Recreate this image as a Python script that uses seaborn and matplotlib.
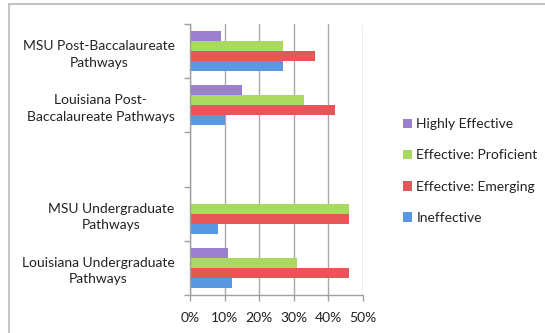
import matplotlib
matplotlib.use("Agg")
import matplotlib.pyplot as plt
import seaborn as sns
import pandas as pd
from matplotlib.ticker import PercentFormatter, MultipleLocator, FixedLocator
from matplotlib.lines import Line2D

# ---- data (top to bottom) ----
categories = [
    "MSU Post-Baccalaureate\nPathways",
    "Louisiana Post-\nBaccalaureate Pathways",
    " ",
    "MSU Undergraduate\nPathways",
    "Louisiana Undergraduate\nPathways",
]
series = ["Highly Effective", "Effective: Proficient", "Effective: Emerging", "Ineffective"]
highly_effective = [9, 15, None, 0, 11]
effective_proficient = [27, 33, None, 46, 31]
effective_emerging = [36, 42, None, 46, 46]
ineffective = [27, 10, None, 8, 12]
colors = ["#9B80CF", "#A9D95F", "#E65558", "#5A97E2"]

rows = []
for s, vals in zip(series, [highly_effective, effective_proficient, effective_emerging, ineffective]):
    for c, v in zip(categories, vals):
        if v is not None:
            rows.append({"category": c, "series": s, "value": v})
df = pd.DataFrame(rows)

sns.set_theme(style="white")
plt.rcParams["font.family"] = ["Lato", "DejaVu Sans"]

fig = plt.figure(figsize=(5.45, 3.33), dpi=100)
ax = fig.add_axes([190 / 545, 1 - 295 / 333, (363 - 190) / 545, (295 - 24) / 333])

sns.barplot(data=df, y="category", x="value", hue="series", order=categories,
            hue_order=series, palette=colors, orient="h", width=0.74,
            saturation=1, ax=ax, legend=True, linewidth=0)

ax.set_xlim(0, 50)
ax.set_ylim(4.5, -0.5)
ax.xaxis.set_major_locator(MultipleLocator(10))
ax.xaxis.set_major_formatter(PercentFormatter(decimals=0))
ax.set_xlabel("")
ax.set_ylabel("")
ax.grid(axis="x", color="#A8A8A8", linewidth=1.0)
ax.set_axisbelow(True)
for sp in ["top", "right"]:
    ax.spines[sp].set_visible(False)
for sp in ["left", "bottom"]:
    ax.spines[sp].set_color("#A0A0A0")
    ax.spines[sp].set_linewidth(1.0)

ax.yaxis.set_minor_locator(FixedLocator([-0.5, 0.5, 1.5, 2.5, 3.5, 4.5]))
ax.tick_params(axis="y", which="major", length=0, pad=11, labelsize=10, labelcolor="#222222")
ax.tick_params(axis="y", which="minor", length=4, color="#A0A0A0", width=1, direction="out", left=True)
ax.tick_params(axis="x", which="major", length=4, color="#A0A0A0", width=1, direction="out",
               bottom=True, labelsize=10, labelcolor="#222222", pad=8)
for lbl in ax.get_yticklabels():
    lbl.set_multialignment("center")
    lbl.set_linespacing(1.45)

handles, labels = ax.get_legend_handles_labels()
ax.legend(handles, labels, loc="center left", bbox_to_anchor=(390 / 545, 1 - 171 / 333),
          bbox_transform=fig.transFigure, frameon=False, fontsize=10,
          handlelength=0.7, handleheight=0.7, handletextpad=0.3, labelspacing=1.38,
          labelcolor="#222222")

frame_kw = dict(color="#C4C4C4", linewidth=1.5, transform=fig.transFigure)
fig.add_artist(Line2D([9 / 545, 9 / 545], [0, 1 - 4 / 333], **frame_kw))
fig.add_artist(Line2D([9 / 545, 1], [1 - 4 / 333, 1 - 4 / 333], **frame_kw))

fig.savefig("out.png", dpi=100)
